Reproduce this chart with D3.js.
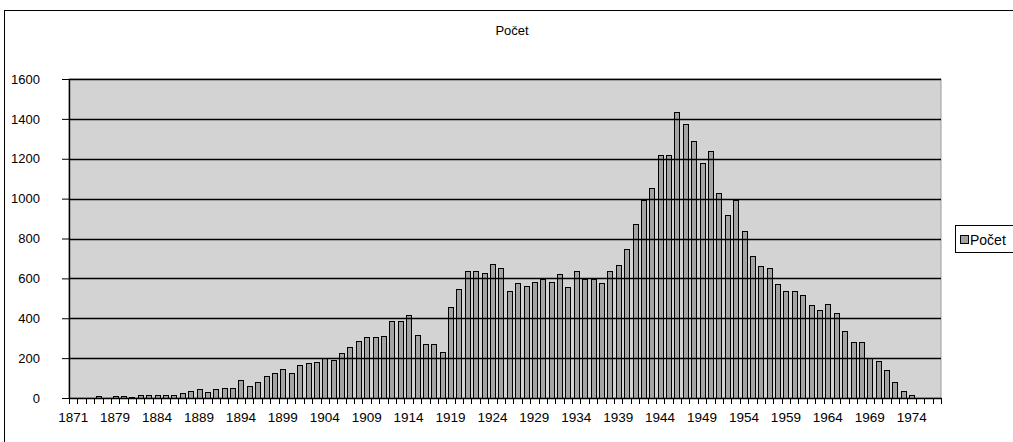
<!DOCTYPE html>
<html>
<head>
<meta charset="utf-8">
<script src="https://cdn.jsdelivr.net/npm/d3@7"></script>
<style>
  body { margin: 0; background: #fff; }
  svg { display: block; font-family: "Liberation Sans", Arial, sans-serif; }
</style>
</head>
<body>
<svg id="chart" width="1013" height="442"></svg>
<script>
// categories (years) - a few early years are missing in the source table
const YEARS = [1871, 1873, 1875, 1876, 1877].concat(d3.range(1879, 1978));

// series "Počet"
const COUNTS = [
  0, 0, 0, 9, 0,
  8, 8, 5, 17, 17, 17, 17, 17, 26, 34,          // 1879-1888
  46, 31, 43, 51, 51, 91, 60, 80, 108, 125,     // 1889-1898
  145, 125, 166, 174, 183, 203, 193, 227, 256, 287, // 1899-1908
  304, 304, 311, 384, 384, 418, 318, 272, 272, 232, // 1909-1918
  455, 545, 637, 637, 629, 674, 654, 536, 575, 561, // 1919-1928
  582, 595, 583, 620, 556, 637, 595, 595, 575, 637, // 1929-1938
  667, 746, 873, 994, 1055, 1218, 1218, 1433, 1372, 1289, // 1939-1948
  1181, 1240, 1027, 916, 994, 836, 710, 664, 653, 572, // 1949-1958
  535, 535, 518, 465, 443, 471, 426, 334, 281, 281, // 1959-1968
  201, 187, 142, 79, 33, 15, 0, 0, 0              // 1969-1977
];

const Y_TICKS = [0, 200, 400, 600, 800, 1000, 1200, 1400, 1600];
const TITLE = "Počet";
const SERIES_NAME = "Počet";

const MARGIN = { left: 69, right: 72, top: 79, bottom: 44 };
const WIDTH = 1013, HEIGHT = 442;
const plotW = WIDTH - MARGIN.left - MARGIN.right;
const plotH = HEIGHT - MARGIN.top - MARGIN.bottom;
const FONT = "Liberation Sans, Arial, sans-serif";

const data = YEARS.map((y, i) => ({ year: y, value: COUNTS[i] }));

const svg = d3.select("#chart");

// outer chart border
svg.append("rect")
  .attr("x", 4.5).attr("y", 10.5)
  .attr("width", 1100).attr("height", 600)
  .attr("fill", "none").attr("stroke", "#000");

// title
svg.append("text")
  .attr("x", 512).attr("y", 35)
  .attr("text-anchor", "middle")
  .attr("font-size", 13)
  .text(TITLE);

const g = svg.append("g")
  .attr("transform", `translate(${MARGIN.left},${MARGIN.top})`);

const x = d3.scaleBand()
  .domain(YEARS)
  .range([0, plotW])
  .paddingInner(0.42)
  .paddingOuter(0.21);

const y = d3.scaleLinear()
  .domain([0, 1600])
  .range([plotH, 0]);

// plot area background
g.append("rect")
  .attr("width", plotW).attr("height", plotH)
  .attr("fill", "#d3d3d3")
  .attr("stroke", "#9a9a9a");

// bars
g.append("g")
  .selectAll("rect")
  .data(data.filter(d => d.value > 0))
  .join("rect")
  .attr("x", d => Math.round(x(d.year)) + 0.5)
  .attr("y", d => Math.round(y(d.value)) + 0.5)
  .attr("width", Math.round(x.bandwidth()))
  .attr("height", d => Math.round(plotH - y(d.value)))
  .attr("fill", "#a4a4a4")
  .attr("stroke", "#000")
  .attr("stroke-width", 1);

// gridlines (drawn over the bars, like the source)
g.append("g")
  .selectAll("line")
  .data(Y_TICKS.filter(v => v > 0))
  .join("line")
  .attr("x1", 0).attr("x2", plotW)
  .attr("y1", d => Math.round(y(d)) + 0.5)
  .attr("y2", d => Math.round(y(d)) + 0.5)
  .attr("stroke", "#000")
  .attr("stroke-width", 1.4);

// y axis
const yAxis = g.append("g")
  .call(d3.axisLeft(y).tickValues(Y_TICKS).tickFormat(d3.format("d"))
    .tickSize(7).tickPadding(22).tickSizeOuter(0));
yAxis.select(".domain").attr("stroke", "#000").attr("stroke-width", 1.4);
yAxis.selectAll("text").attr("font-size", 13).attr("font-family", FONT).attr("fill", "#000");

// x axis: labels every 5th category
const xAxis = g.append("g")
  .attr("transform", `translate(0,${plotH})`)
  .call(d3.axisBottom(x)
    .tickValues(YEARS.filter((d, i) => i % 5 === 0))
    .tickSize(0).tickPadding(14).tickSizeOuter(0));
xAxis.select(".domain").attr("stroke", "#000").attr("stroke-width", 1.4);
xAxis.selectAll("text").attr("font-size", 13.5).attr("font-family", FONT).attr("fill", "#000");

// tick marks between categories
xAxis.append("g")
  .selectAll("line")
  .data(d3.range(YEARS.length + 1))
  .join("line")
  .attr("x1", i => Math.round(i * x.step()) + 0.5)
  .attr("x2", i => Math.round(i * x.step()) + 0.5)
  .attr("y1", 0).attr("y2", 6)
  .attr("stroke", "#000");

// legend
const legend = svg.append("g").attr("transform", "translate(955,225)");
legend.append("rect")
  .attr("x", 0.5).attr("y", 0.5)
  .attr("width", 80).attr("height", 27)
  .attr("fill", "#fff").attr("stroke", "#000");
legend.append("rect")
  .attr("x", 5.5).attr("y", 10.5)
  .attr("width", 8).attr("height", 8)
  .attr("fill", "#a4a4a4").attr("stroke", "#000");
legend.append("text")
  .attr("x", 15).attr("y", 19.5)
  .attr("font-size", 14)
  .text(SERIES_NAME);
</script>
</body>
</html>
